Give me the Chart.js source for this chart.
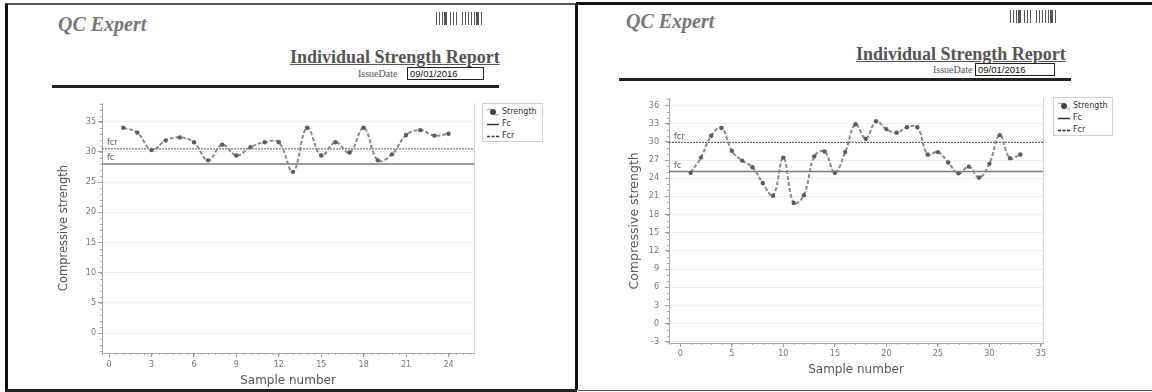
<!DOCTYPE html>
<html>
<head>
<meta charset="utf-8">
<script src="https://cdn.jsdelivr.net/npm/chart.js@4"></script>
<style>
  body { margin: 0; width: 1152px; height: 392px; background: #fff; overflow: hidden; position: relative; font-family: "DejaVu Sans", sans-serif; }
  .line { position: absolute; }
  .brand { position: absolute; font: italic bold 20px "Liberation Serif", serif; color: #777; line-height: 1; white-space: nowrap; }
  .title { position: absolute; font: bold 18px "Liberation Serif", serif; color: #555; text-decoration: underline; line-height: 1; white-space: nowrap; }
  .issue { position: absolute; font: 10px "Liberation Serif", serif; color: #555; line-height: 1; white-space: nowrap; }
  .datebox { position: absolute; border: 1px solid #222; font: 9.5px "Liberation Sans", sans-serif; color: #111; line-height: 11px; padding-left: 2px; box-sizing: border-box; }
  .rule { position: absolute; height: 3px; background: #222; }
  .barcode { position: absolute; height: 13px;
    background:
      linear-gradient(90deg, #555 0 1px, transparent 1px 3px, #555 3px 4px, transparent 4px 6px, #555 6px 7px, transparent 7px 8px, #555 8px 11px, transparent 11px 14px,
        #555 14px 15px, transparent 15px 17px, #555 17px 18px, transparent 18px 20px, #555 20px 21px, transparent 21px 26px,
        #555 26px 27px, transparent 27px 29px, #555 29px 30px, transparent 30px 32px, #555 32px 33px, transparent 33px 35px, #555 35px 36px, transparent 36px 38px,
        #555 38px 39px, transparent 39px 40px, #555 40px 43px, transparent 43px 45px, #555 45px 46px, transparent 46px); }
  canvas { position: absolute; }
  .legend { position: absolute; border: 1px solid #cfcfcf; background: #fff; font: 8px "DejaVu Sans", sans-serif; color: #333; box-sizing: border-box; }
  .legend .item { position: absolute; left: 3px; height: 10px; line-height: 10px; white-space: nowrap; }
  .legend .ico { display: inline-block; width: 14px; height: 10px; vertical-align: top; position: relative; margin-right: 2px; }
</style>
</head>
<body>
<!-- frame lines -->
<div class="line" style="left:5px;top:3px;width:584px;height:2px;background:#555"></div>
<div class="line" style="left:576px;top:2px;width:576px;height:3px;background:#111"></div>
<div class="line" style="left:5px;top:4px;width:3px;height:388px;background:#111"></div>
<div class="line" style="left:575px;top:4px;width:3px;height:386px;background:#111"></div>
<div class="line" style="left:5px;top:389px;width:572px;height:3px;background:#222"></div>
<div class="line" style="left:578px;top:390px;width:574px;height:1px;background:#555"></div>

<!-- left header -->
<div class="brand" style="left:58px;top:14px">QC Expert</div>
<div class="barcode" style="left:436px;top:12px;width:52px"></div>
<div class="title" style="left:290px;top:48px">Individual Strength Report</div>
<div class="issue" style="left:358px;top:69px">IssueDate</div>
<div class="datebox" style="left:407px;top:67px;width:77px;height:13px">09/01/2016</div>
<div class="rule" style="left:52px;top:85px;width:447px"></div>

<!-- right header -->
<div class="brand" style="left:626px;top:11px">QC Expert</div>
<div class="barcode" style="left:1010px;top:10px;width:50px"></div>
<div class="title" style="left:856px;top:45px">Individual Strength Report</div>
<div class="issue" style="left:933px;top:65px">IssueDate</div>
<div class="datebox" style="left:975px;top:63px;width:80px;height:13px">09/01/2016</div>
<div class="rule" style="left:619px;top:78px;width:452px"></div>

<canvas id="chartLeft" width="500" height="295" style="left:55px;top:95px"></canvas>
<canvas id="chartRight" width="500" height="290" style="left:626px;top:88px"></canvas>

<div class="legend" id="legendLeft" style="left:482px;top:103px;width:61px;height:39px"></div>
<div class="legend" id="legendRight" style="left:1053px;top:97px;width:60px;height:39px"></div>

<script>
// ── Data ──────────────────────────────────────────────
// left report: 24 samples
const leftSamples  = [1, 2, 3, 4, 5, 6, 7, 8, 9, 10, 11, 12, 13, 14, 15, 16, 17, 18, 19, 20, 21, 22, 23, 24];
const leftStrength = [34.0, 33.2, 30.3, 31.9, 32.4, 31.6, 28.6, 31.2, 29.4, 30.8, 31.6, 31.6,
                      26.7, 34.0, 29.4, 31.6, 29.9, 34.0, 28.6, 29.6, 32.8, 33.6, 32.7, 33.0];
const leftFc  = 28.0;
const leftFcr = 30.5;
const leftXTicks = [0, 3, 6, 9, 12, 15, 18, 21, 24];
const leftYTicks = [0, 5, 10, 15, 20, 25, 30, 35];

// right report: 33 samples
const rightSamples  = [1, 2, 3, 4, 5, 6, 7, 8, 9, 10, 11, 12, 13, 14, 15, 16, 17,
                       18, 19, 20, 21, 22, 23, 24, 25, 26, 27, 28, 29, 30, 31, 32, 33];
const rightStrength = [24.9, 27.4, 31.0, 32.3, 28.5, 26.9, 25.8, 23.2, 21.1, 27.4, 19.9, 21.2, 27.6, 28.4, 24.9, 28.3, 32.9,
                       30.5, 33.4, 32.1, 31.5, 32.4, 32.4, 27.9, 28.3, 26.6, 24.8, 25.9, 24.1, 26.4, 31.1, 27.3, 27.9];
const rightFc  = 25.1;
const rightFcr = 29.9;
const rightXTicks = [0, 5, 10, 15, 20, 25, 30, 35];
const rightYTicks = [-3, 0, 3, 6, 9, 12, 15, 18, 21, 24, 27, 30, 33, 36];

const legendLabels = ['Strength', 'Fc', 'Fcr'];

// ── Plugin: minor ticks, right frame edge, fc / fcr labels ──
const extrasPlugin = {
  id: 'extras',
  afterDraw(chart, args, opts) {
    const { ctx, chartArea: a, scales: { x, y } } = chart;
    ctx.save();
    ctx.strokeStyle = '#aaa';
    ctx.lineWidth = 1;
    ctx.beginPath();
    for (let v = Math.ceil(x.min / opts.xMinor) * opts.xMinor; v <= x.max; v += opts.xMinor) {
      const px = Math.round(x.getPixelForValue(v)) + 0.5;
      ctx.moveTo(px, a.bottom); ctx.lineTo(px, a.bottom + 2);
    }
    for (let v = Math.ceil(y.min / opts.yMinor) * opts.yMinor; v <= y.max; v += opts.yMinor) {
      const py = Math.round(y.getPixelForValue(v)) + 0.5;
      ctx.moveTo(a.left, py); ctx.lineTo(a.left - 2, py);
    }
    ctx.stroke();

    ctx.strokeStyle = '#d4d4d4';
    ctx.beginPath();
    ctx.moveTo(Math.round(a.right) + 0.5, a.top);
    ctx.lineTo(Math.round(a.right) + 0.5, a.bottom);
    ctx.stroke();

    ctx.fillStyle = '#555';
    ctx.font = '8px "DejaVu Sans"';
    ctx.textBaseline = 'bottom';
    ctx.fillText('fcr', a.left + 5, y.getPixelForValue(opts.fcr) - 2);
    ctx.fillText('fc', a.left + 5, y.getPixelForValue(opts.fc) - 2);
    ctx.restore();
  }
};

function buildChart(id, o) {
  const strength = o.samples.map((s, i) => ({ x: s, y: o.strength[i] }));
  return new Chart(document.getElementById(id), {
    type: 'scatter',
    data: {
      datasets: [
        {
          label: legendLabels[0],
          data: strength,
          showLine: true,
          borderColor: '#8a8a8a',
          borderWidth: 2,
          borderDash: [4, 2],
          tension: 0.4,
          pointRadius: 2.2,
          pointBackgroundColor: '#5c5c5c',
          pointBorderWidth: 0
        },
        {
          label: legendLabels[1],
          data: [{ x: o.xMin, y: o.fc }, { x: o.xMax, y: o.fc }],
          showLine: true,
          borderColor: '#7a7a7a',
          borderWidth: 1.5,
          pointRadius: 0
        },
        {
          label: legendLabels[2],
          data: [{ x: o.xMin, y: o.fcr }, { x: o.xMax, y: o.fcr }],
          showLine: true,
          borderColor: '#555',
          borderWidth: 1,
          borderDash: [2, 1],
          pointRadius: 0
        }
      ]
    },
    options: {
      responsive: false,
      animation: false,
      layout: { padding: { top: 8, right: o.padRight, left: 0, bottom: 0 } },
      plugins: {
        legend: { display: false },
        tooltip: { enabled: false },
        extras: { xMinor: o.xMinor, yMinor: o.yMinor, fc: o.fc, fcr: o.fcr }
      },
      scales: {
        x: {
          type: 'linear',
          min: o.xMin,
          max: o.xMax,
          afterBuildTicks: s => { s.ticks = o.xTicks.map(v => ({ value: v })); },
          afterFit: s => { s.height = o.xAxisH; },
          grid: { drawOnChartArea: false, tickLength: 4, tickColor: '#999' },
          border: { color: '#a8a8a8' },
          ticks: { font: { family: 'DejaVu Sans', size: 8 }, color: '#777', padding: o.xTickPad, maxRotation: 0, autoSkip: false },
          title: { display: true, text: 'Sample number', color: '#555', font: { family: 'DejaVu Sans', size: 12 }, padding: { top: 0, bottom: o.xTitlePad } }
        },
        y: {
          type: 'linear',
          min: o.yMin,
          max: o.yMax,
          afterBuildTicks: s => { s.ticks = o.yTicks.map(v => ({ value: v })); },
          afterFit: s => { s.width = o.yAxisW; },
          grid: { color: '#ececec', tickLength: 4, tickColor: '#999' },
          border: { color: '#a8a8a8' },
          ticks: { font: { family: 'DejaVu Sans', size: 8 }, color: '#777', padding: o.yTickPad },
          title: { display: true, text: 'Compressive strength', color: '#555', font: { family: 'DejaVu Sans', size: o.yTitleSize }, padding: { top: o.yTitlePad, bottom: 0 } }
        }
      }
    },
    plugins: [extrasPlugin]
  });
}

buildChart('chartLeft', {
  samples: leftSamples, strength: leftStrength, fc: leftFc, fcr: leftFcr,
  xTicks: leftXTicks, yTicks: leftYTicks,
  xMin: -0.5, xMax: 25.8, yMin: -3.3, yMax: 38.1,
  xMinor: 0.5, yMinor: 1,
  padRight: 81, xAxisH: 37, yAxisW: 47,
  xTickPad: 3, xTitlePad: 2, yTickPad: 2, yTitlePad: 2.5, yTitleSize: 11.5
});

buildChart('chartRight', {
  samples: rightSamples, strength: rightStrength, fc: rightFc, fcr: rightFcr,
  xTicks: rightXTicks, yTicks: rightYTicks,
  xMin: -1.1, xMax: 35.2, yMin: -3.2, yMax: 37.1,
  xMinor: 1, yMinor: 1,
  padRight: 83, xAxisH: 35, yAxisW: 43,
  xTickPad: 2.5, xTitlePad: 1.2, yTickPad: 6, yTitlePad: 1, yTitleSize: 12.5
});

// ── HTML legends ──
function fillLegend(id) {
  const box = document.getElementById(id);
  const icons = [
    '<svg width="14" height="10"><path d="M1 3 Q3 1 6 3" stroke="#999" fill="none" stroke-width="1"/><circle cx="7" cy="5" r="3" fill="#444"/><path d="M9 8 Q11 9 13 7" stroke="#999" fill="none" stroke-width="1"/></svg>',
    '<svg width="14" height="10"><line x1="1" y1="5.5" x2="13" y2="5.5" stroke="#333" stroke-width="1.5"/></svg>',
    '<svg width="14" height="10"><line x1="1" y1="5.5" x2="13" y2="5.5" stroke="#333" stroke-width="1.5" stroke-dasharray="3 1.5"/></svg>'
  ];
  legendLabels.forEach((lab, i) => {
    const it = document.createElement('div');
    it.className = 'item';
    it.style.top = (3 + i * 12) + 'px';
    it.innerHTML = '<span class="ico">' + icons[i] + '</span>' + lab;
    box.appendChild(it);
  });
}
fillLegend('legendLeft');
fillLegend('legendRight');
</script>
</body>
</html>
